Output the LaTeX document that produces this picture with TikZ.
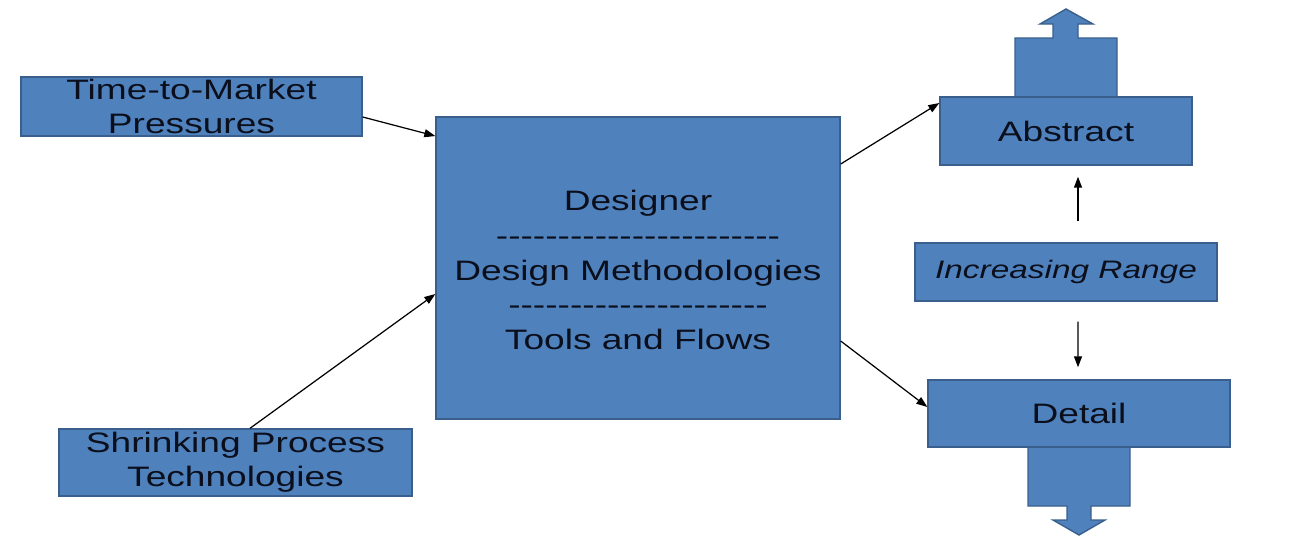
\documentclass[tikz,border=0pt]{standalone}
\usepackage{fontspec}
\setmainfont{Liberation Sans}[FakeStretch=1.32]
\usetikzlibrary{arrows.meta}
\definecolor{boxfill}{HTML}{4F81BD}
\definecolor{boxdraw}{HTML}{3A5F8C}
\definecolor{txt}{HTML}{0B0F1C}
\newcommand{\hyphenrow}[1]{\foreach \k in {1,...,#1}{-{}}}
\begin{document}
\begin{tikzpicture}[x=0.02cm,y=-0.02cm,
  box/.style={draw=boxdraw,line width=0.8pt,fill=boxfill,text=txt,align=center,
    inner sep=0pt,font=\fontsize{16pt}{19.6pt}\selectfont},
  conn/.style={draw=black,line width=0.7pt,-{Triangle[length=0.22cm,width=0.16cm]}}]
\useasboundingbox (0,0) rectangle (1291,548);
% upper arrow piece
\draw[draw=boxdraw,line width=0.8pt,fill=boxfill]
  (1015,97) -- (1015,38) -- (1053,38) -- (1053,24) -- (1040,24) -- (1066,9)
  -- (1093,24) -- (1078,24) -- (1078,38) -- (1117,38) -- (1117,97) -- cycle;
% lower arrow piece
\draw[draw=boxdraw,line width=0.8pt,fill=boxfill]
  (1028,447) -- (1028,506) -- (1067,506) -- (1067,520) -- (1053,520) -- (1079,535)
  -- (1105,520) -- (1091,520) -- (1091,506) -- (1130,506) -- (1130,447) -- cycle;
\node[box,minimum width=6.82cm,minimum height=1.18cm] (time) at (191.5,106.5) {Time-to-Market\\Pressures};
\node[box,minimum width=7.06cm,minimum height=1.34cm] (shrink) at (235.5,462.5) {Shrinking Process\\Technologies};
\node[box,minimum width=8.08cm,minimum height=6.04cm] (center) at (638,268) {};
\node[text=txt,align=center,inner sep=0pt,font=\fontsize{16pt}{19.8pt}\selectfont] (centertext) at (638,270)
  {Designer\\\hyphenrow{23}\\Design Methodologies\\\hyphenrow{21}\\Tools and Flows};
\node[box,minimum width=5.04cm,minimum height=1.36cm] (abstract) at (1066,131) {Abstract};
\node[box,minimum width=6.04cm,minimum height=1.16cm,font=\fontsize{14.4pt}{18pt}\selectfont\itshape] (range) at (1066,272) {Increasing Range};
\node[box,minimum width=6.04cm,minimum height=1.34cm] (detail) at (1079,413.5) {Detail};
\draw[conn] ([yshift=-0.21cm]time.east) -- ([yshift=2.64cm]center.west);
\draw[conn] ([xshift=0.29cm]shrink.north) -- ([yshift=-0.52cm]center.west);
\draw[conn] ([yshift=2.08cm]center.east) -- ([yshift=0.56cm]abstract.west);
\draw[conn] ([yshift=-1.46cm]center.east) -- ([yshift=0.13cm]detail.west);
\draw[conn] ([shift={(0.24cm,0.42cm)}]range.north) -- ([shift={(0.24cm,-0.22cm)}]abstract.south);
\draw[conn] ([shift={(0.24cm,-0.40cm)}]range.south) -- ([shift={(-0.02cm,0.24cm)}]detail.north);
\end{tikzpicture}
\end{document}
